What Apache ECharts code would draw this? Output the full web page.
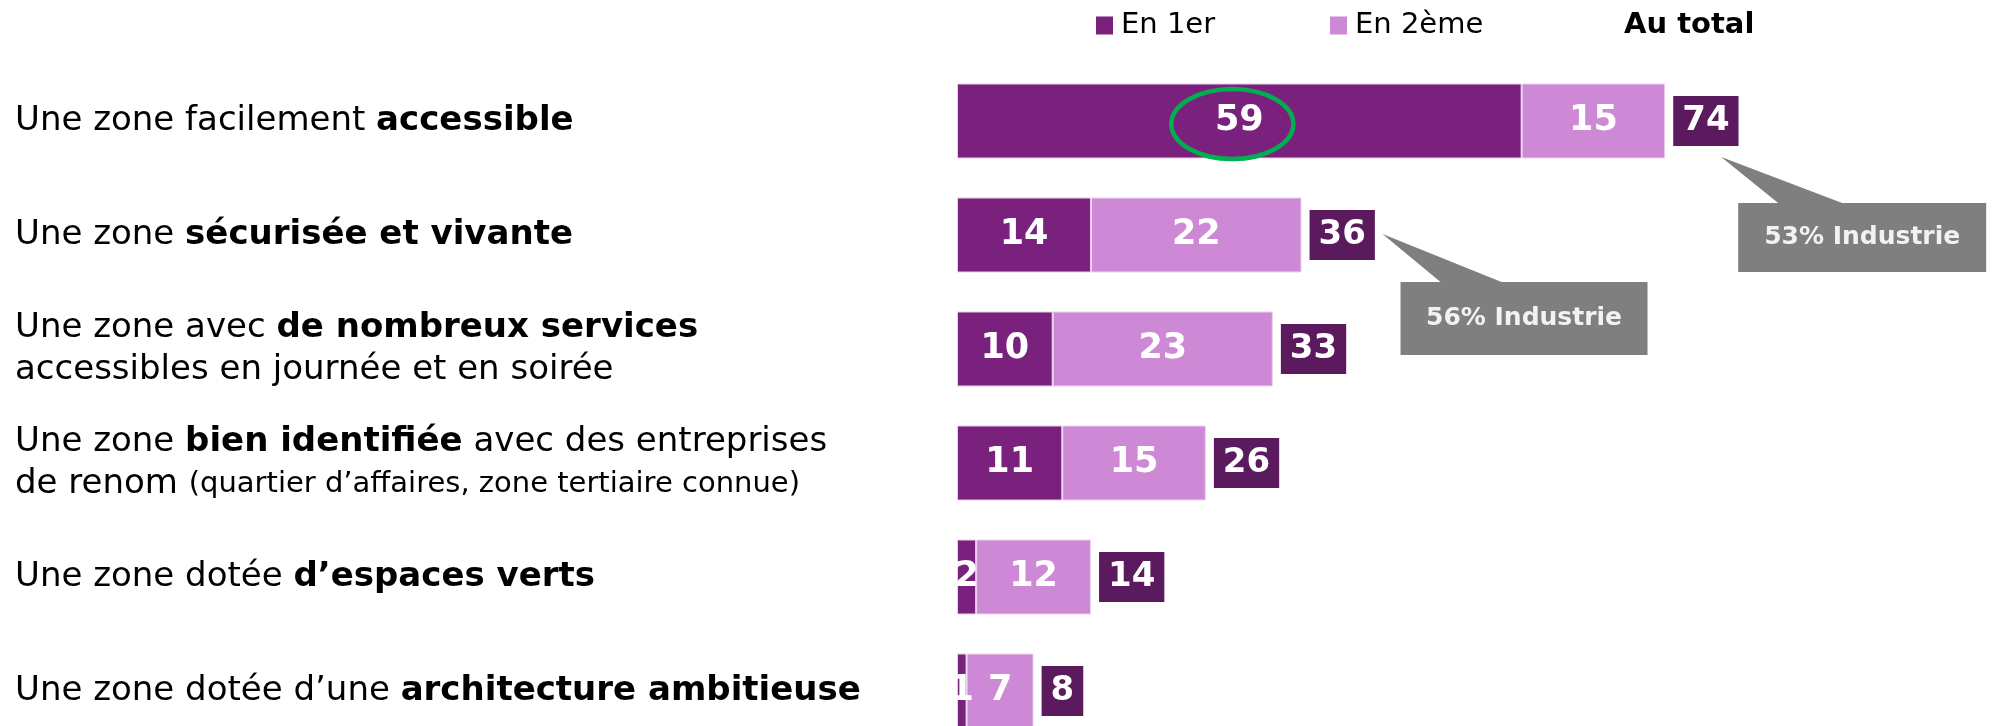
<!DOCTYPE html>
<html lang="fr">
<head>
<meta charset="utf-8">
<title>Critères de choix de la zone</title>
<script src="https://cdn.jsdelivr.net/npm/echarts@6/dist/echarts.min.js"></script>
<style>
  html, body { margin: 0; padding: 0; background: #ffffff; }
  #chart { width: 1993px; height: 726px; }
</style>
</head>
<body>
<div id="chart"></div>
<script>
// Row labels (rich-text markup: n = normal, b = bold, s = small)
const categories = [
  '{n|Une zone facilement }{b|accessible}',
  '{n|Une zone }{b|sécurisée et vivante}',
  '{n|Une zone avec }{b|de nombreux services}\n{n|accessibles en journée et en soirée}',
  '{n|Une zone }{b|bien identifiée}{n| avec des entreprises}\n{n|de renom }{s|(quartier d’affaires, zone tertiaire connue)}',
  '{n|Une zone dotée }{b|d’espaces verts}',
  '{n|Une zone dotée d’une }{b|architecture ambitieuse}'
];
const seriesNames = ['En 1er', 'En 2ème', 'Au total'];
const firstRank = [59, 14, 10, 11, 2, 1];
const secondRank = [15, 22, 23, 15, 12, 7];
const totals = [74, 36, 33, 26, 14, 8];
// Sector call-outs attached to a row's total
const noteRows = [0, 1];
const noteTexts = ['53% Industrie', '56% Industrie'];
// Row whose first-rank value is circled
const circledRow = 0;

const FONT = '"DejaVu Sans", Verdana, sans-serif';
const C_FIRST = '#7a217e';
const C_SECOND = '#cd89d5';
const C_TOTAL = '#5c1a5e';
const C_NOTE = '#7f7f7f';

const chart = echarts.init(document.getElementById('chart'), null, { renderer: 'canvas' });

const barLabel = {
  show: true,
  position: 'inside',
  color: '#ffffff',
  fontFamily: FONT,
  fontWeight: 'bold',
  fontSize: 35
};

const legendText = { fontFamily: FONT, fontSize: 29, color: '#000', padding: [0, 0, 0, 3] };

const option = {
  animation: false,
  backgroundColor: '#ffffff',
  grid: {
    left: 957, right: 79, top: 64, height: 684,
    containLabel: false, outerBoundsMode: 'none'
  },
  legend: [
    {
      data: [seriesNames[0]], left: 1091, top: 6, icon: 'rect',
      itemWidth: 17, itemHeight: 18, itemStyle: { borderWidth: 0 },
      textStyle: legendText
    },
    {
      data: [seriesNames[1]], left: 1325, top: 6, icon: 'rect',
      itemWidth: 17, itemHeight: 18, itemStyle: { borderWidth: 0 },
      textStyle: legendText
    },
    {
      data: [{ name: seriesNames[2], icon: 'none' }], left: 1614, top: 6,
      itemWidth: 0, itemHeight: 18,
      textStyle: { fontFamily: FONT, fontSize: 29, fontWeight: 'bold', color: '#000' }
    }
  ],
  xAxis: {
    type: 'value', min: 0, max: 100, show: false
  },
  yAxis: {
    type: 'category',
    data: categories,
    inverse: true,
    axisLine: { show: false },
    axisTick: { show: false },
    splitLine: { show: false },
    axisLabel: {
      align: 'left',
      margin: 942,
      rich: {
        n: { fontFamily: FONT, fontSize: 34, color: '#000', lineHeight: 42 },
        b: { fontFamily: FONT, fontSize: 34, fontWeight: 'bold', color: '#000', lineHeight: 42 },
        s: { fontFamily: FONT, fontSize: 29, color: '#000', lineHeight: 42 }
      }
    }
  },
  series: [
    {
      name: seriesNames[0], type: 'bar', stack: 'rank', barWidth: 75,
      data: firstRank,
      itemStyle: { color: C_FIRST, borderColor: '#e9cdec', borderWidth: 1 },
      label: barLabel
    },
    {
      name: seriesNames[1], type: 'bar', stack: 'rank', barWidth: 75,
      data: secondRank,
      itemStyle: { color: C_SECOND, borderColor: '#ecd3ef', borderWidth: 1 },
      label: barLabel
    },
    {
      name: seriesNames[2], type: 'scatter',
      data: totals.map((v, i) => [v, i]),
      symbolSize: 0.1,
      itemStyle: { color: C_TOTAL, opacity: 1 },
      label: {
        show: true, position: 'right', distance: 8,
        formatter: p => String(p.value[0]),
        backgroundColor: C_TOTAL,
        color: '#ffffff',
        opacity: 1,
        fontFamily: FONT, fontWeight: 'bold', fontSize: 34,
        lineHeight: 34,
        padding: [8, 9, 8, 9]
      }
    }
  ]
};

chart.setOption(option);

// Annotations anchored to the data positions
function px(x, row) {
  return chart.convertToPixel({ gridIndex: 0 }, [x, row]);
}

const graphics = [];

// call-out geometry relative to the end of the total bar
const noteGeom = [
  { tip: [56, 36], b1: 113, b2: 177, l: 73, t: 82, r: 321, btm: 151 },
  { tip: [81, -1], b1: 139, b2: 200, l: 99, t: 47, r: 346, btm: 120 }
];

noteRows.forEach((row, k) => {
  const [ax, ay] = px(totals[row], row);
  const g = noteGeom[k];
  graphics.push({
    type: 'polygon',
    shape: {
      points: [
        [ax + g.tip[0], ay + g.tip[1]],
        [ax + g.b2, ay + g.t],
        [ax + g.r, ay + g.t],
        [ax + g.r, ay + g.btm],
        [ax + g.l, ay + g.btm],
        [ax + g.l, ay + g.t],
        [ax + g.b1, ay + g.t]
      ]
    },
    style: { fill: C_NOTE },
    z: 10
  });
  graphics.push({
    type: 'text',
    x: ax + (g.l + g.r) / 2,
    y: ay + (g.t + g.btm) / 2,
    style: {
      text: noteTexts[k],
      fill: '#f2f2f2',
      font: 'bold 25px ' + FONT,
      align: 'center',
      verticalAlign: 'middle'
    },
    z: 11
  });
});

// green ring around the leading first-rank value
const [cx, cy] = px(firstRank[circledRow] / 2, circledRow);
graphics.push({
  type: 'ellipse',
  shape: { cx: cx - 7, cy: cy + 3, rx: 61, ry: 35 },
  style: { fill: 'none', stroke: '#00b050', lineWidth: 4.5 },
  z: 12
});

chart.setOption({ graphic: graphics });
</script>
</body>
</html>
